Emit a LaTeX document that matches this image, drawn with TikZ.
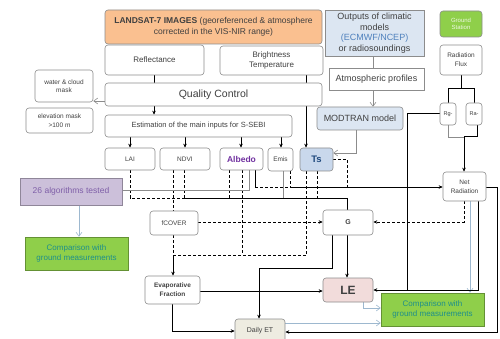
\documentclass[tikz,border=0pt]{standalone}
\usepackage{fontspec}
\setmainfont{Liberation Sans}
\usetikzlibrary{arrows.meta,backgrounds}
\definecolor{bord}{HTML}{8C8C8C}
\definecolor{txt}{HTML}{404040}
\definecolor{orangef}{HTML}{FAC090}
\definecolor{bluef}{HTML}{DCE6F2}
\definecolor{tsf}{HTML}{C9D8EC}
\definecolor{tsblue}{HTML}{1F497D}
\definecolor{greenf}{HTML}{8FCF4A}
\definecolor{greent}{HTML}{1E8F8A}
\definecolor{purplef}{HTML}{CCC0DA}
\definecolor{purplet}{HTML}{7F5FA8}
\definecolor{albedot}{HTML}{7030A0}
\definecolor{pinkf}{HTML}{F2DCDB}
\definecolor{beigef}{HTML}{EEECE1}
\definecolor{lblue}{HTML}{9DB8CF}
\definecolor{ecmwf}{HTML}{4F81BD}
\tikzset{
  bx/.style={draw=bord, line width=0.6pt, rounded corners=3pt, fill=white, align=center, inner sep=0pt, text=txt},
  sq/.style={draw=bord, line width=0.6pt, fill=white, align=center, inner sep=0pt, text=txt},
  thk/.style={line width=1pt, black},
  thn/.style={line width=0.65pt, black},
  dsh/.style={line width=0.9pt, black, dash pattern=on 3pt off 2pt},
  gry/.style={line width=0.6pt, bord},
  lbl/.style={line width=0.6pt, lblue},
  arr/.style={-{Stealth[length=4pt,width=3.5pt]}},
  oarr/.style={-{Straight Barb[length=4pt,width=6pt]}},
}
\begin{document}
\begin{tikzpicture}[x=1pt,y=-1pt]
\useasboundingbox (0,0) rectangle (500,339);
% ---------- nodes ----------
\node[bx, fill=orangef, minimum width=217pt, minimum height=34pt, font=\fontsize{8.5}{10.5}\selectfont] (land) at (213.5,27)
  {\textbf{LANDSAT-7 IMAGES} (georeferenced \& atmosphere\\corrected in the VIS-NIR range)};
\node[sq, fill=bluef, minimum width=99pt, minimum height=46pt, font=\fontsize{9}{10.5}\selectfont] (outp) at (374.5,33)
  {Outputs of climatic\\models\\\textcolor{ecmwf}{(ECMWF/NCEP)}\\or radiosoundings};
\node[bx, fill=greenf, minimum width=42pt, minimum height=26pt, font=\fontsize{6}{7.5}\selectfont, text=white!85!greenf] (gst) at (461,24) {Ground\\Station};
\node[bx, minimum width=99pt, minimum height=30pt, font=\fontsize{8}{10}\selectfont] (refl) at (154.5,60) {Reflectance};
\node[bx, minimum width=103pt, minimum height=29pt, font=\fontsize{8}{10}\selectfont] (bt) at (271.5,60.5) {Brightness\\Temperature};
\node[bx, minimum width=42pt, minimum height=30pt, font=\fontsize{6.5}{9}\selectfont] (rflux) at (461,60) {Radiation\\Flux};
\node[sq, minimum width=95pt, minimum height=22pt, font=\fontsize{9}{11}\selectfont] (atm) at (376.5,79) {Atmospheric profiles};
\node[bx, minimum width=217pt, minimum height=23pt, font=\fontsize{10.5}{12}\selectfont] (qc) at (213.5,94.5) {Quality Control};
\node[bx, minimum width=58pt, minimum height=32pt, font=\fontsize{6.5}{8.5}\selectfont] (water) at (64,86) {water \& cloud\\mask};
\node[bx, minimum width=67pt, minimum height=25pt, font=\fontsize{6.5}{8.5}\selectfont] (elev) at (59.5,120.5) {elevation mask\\>100 m};
\node[bx, minimum width=187pt, minimum height=22pt, font=\fontsize{7.5}{9}\selectfont] (est) at (198.5,126) {Estimation of the main inputs for S-SEBI};
\node[bx, fill=bluef, minimum width=86pt, minimum height=23pt, font=\fontsize{9}{11}\selectfont] (mod) at (360,118.5) {MODTRAN model};
\node[bx, minimum width=16pt, minimum height=22pt, font=\fontsize{5.5}{7}\selectfont] (rg) at (448,114) {Rg-};
\node[bx, minimum width=16pt, minimum height=22pt, font=\fontsize{5.5}{7}\selectfont] (ra) at (474,114) {Ra-};
\node[bx, minimum width=50pt, minimum height=22pt, font=\fontsize{6.5}{8}\selectfont] (lai) at (130,159) {LAI};
\node[bx, minimum width=50pt, minimum height=22pt, font=\fontsize{6.5}{8}\selectfont] (ndvi) at (185,159) {NDVI};
\node[bx, minimum width=43pt, minimum height=22pt, font=\bfseries\fontsize{8.5}{10}\selectfont, text=albedot] (alb) at (241.5,159) {Albedo};
\node[bx, minimum width=25pt, minimum height=23pt, font=\fontsize{6.5}{8}\selectfont] (emis) at (280.5,159.5) {Emis};
\node[bx, fill=tsf, minimum width=33pt, minimum height=23pt, font=\bfseries\fontsize{9.5}{11}\selectfont, text=tsblue] (ts) at (316.5,159.5) {Ts};
\node[sq, fill=purplef, draw=purplef!70!black, minimum width=102pt, minimum height=27pt, font=\fontsize{8.5}{10}\selectfont, text=purplet] (alg) at (71,191.5) {26 algorithms tested};
\node[sq, fill=greenf, draw=greenf!70!black, minimum width=103pt, minimum height=33pt, font=\fontsize{8}{10.5}\selectfont, text=greent] (cmpl) at (76.5,253.5) {Comparison with\\ground measurements};
\node[bx, minimum width=48pt, minimum height=24pt, font=\fontsize{6.5}{8}\selectfont] (fcov) at (174,223) {fCOVER};
\node[bx, minimum width=50pt, minimum height=25pt, font=\bfseries\fontsize{7}{8}\selectfont] (g) at (348,222.5) {G};
\node[bx, minimum width=43pt, minimum height=29pt, font=\fontsize{6.5}{9}\selectfont] (net) at (464.5,186.5) {Net\\Radiation};
\node[bx, minimum width=55pt, minimum height=28pt, font=\bfseries\fontsize{6.5}{9}\selectfont] (ef) at (172.5,290) {Evaporative\\Fraction};
\node[bx, fill=pinkf, minimum width=50pt, minimum height=24pt, font=\bfseries\fontsize{12}{14}\selectfont] (le) at (348,290) {LE};
\node[sq, fill=greenf, draw=greenf!70!black, minimum width=103pt, minimum height=33pt, font=\fontsize{8}{10.5}\selectfont, text=greent] (cmpr) at (432.5,309.5) {Comparison with\\ground measurements};
\node[bx, fill=beigef, minimum width=50pt, minimum height=24pt, font=\fontsize{7}{8}\selectfont] (det) at (260,331) {Daily ET};
% ---------- connectors ----------
\begin{pgfonlayer}{background}
% top part
\draw[thk] (refl.south -| 154,0) -- (qc.north -| 154,0);
\draw[thn,arr] (qc.south -| 154,0) -- (est.north -| 154,0);
\draw[gry,oarr] (qc.west |- 0,101) -- (water.east |- 0,101);
\draw[thk,arr] (bt.south -| 306,0) -- (ts.north -| 306,0);
\draw[thn,arr] (est.south -| 130,0) -- (lai.north -| 130,0);
\draw[thn,arr] (est.south -| 185,0) -- (ndvi.north -| 185,0);
\draw[thn,arr] (est.south -| 241,0) -- (alb.north -| 241,0);
\draw[thn,arr] (est.south -| 281,0) -- (emis.north -| 281,0);
\draw[gry] (outp.south -| 373,0) -- (atm.north -| 373,0);
\draw[gry,oarr] (atm.south -| 373,0) -- (mod.north -| 373,0);
\draw[gry,oarr] (mod.south -| 356,0) -- (356,153) -- (ts.east |- 0,153);
% radiation flux
\coordinate (rf1) at (461,88);
\draw[thn] (rflux.south) -- (rf1);
\draw[thn] (rg.north -| 448,0) -- (448,88) -- (474,88) -- (ra.north -| 474,0);
\draw[gry] (rg.south -| 448,0) -- (448,137) -- (464,137);
\draw[thk] (ra.south -| 477,0) -- (477,137) -- (464,137);
\draw[thk,arr] (464,137) -- (net.north -| 464,0);
\draw[thk] (rg.west) -- (407,114) -- (407,290);
% outputs of inputs
\draw[dsh] (lai.south -| 130,0) -- (130,198) -- (183,198);
\draw[dsh] (ndvi.south -| 184,0) -- (184,198);
\draw[dsh] (ndvi.south -| 173,0) -- (fcov.north -| 173,0);
\draw[dsh] (alb.south -| 229,0) -- (229,198);
\draw[dsh] (alb.south -| 242,0) -- (242,255);
\draw[gry] (alb.south -| 249,0) -- (249,190) -- (alg.east |- 0,190);
\draw[thn] (alb.south -| 255,0) -- (255,187);
\draw[dsh] (255,187) -- (290,187);
\draw[gry] (emis.south -| 283,0) -- (283,198);
\draw[dsh] (emis.south -| 290,0) -- (290,187);
\draw[dsh] (ts.south -| 306,0) -- (306,255);
\draw[dsh] (ts.south -| 317,0) -- (317,198);
\draw[dsh] (ts.east |- 0,159) -- (347,159) -- (347,187);
\draw[thk,arr] (290,187) -- (net.west |- 0,187);
\draw[thk] (183,198) -- (347,198) -- (g.north -| 347,0);
% fcover / G / EF
\draw[dsh,arr] (fcov.east |- 0,222) -- (g.west |- 0,222);
\draw[dsh] (fcov.south -| 173,0) -- (173,255);
\draw[dsh] (173,255) -- (306,255);
\draw[thn,arr] (173,255) -- (ef.north -| 173,0);
\draw[dsh,arr] (net.south -| 464,0) -- (464,222) -- (g.east |- 0,222);
\draw[lbl,oarr] (net.south -| 470,0) -- (cmpr.north -| 470,0);
\draw[thn,arr] (net.south -| 478,0) -- (478,290) -- (le.east |- 0,290);
\draw[thk,arr] (net.east |- 0,187) -- (497,187) -- (497,332) -- (det.east |- 0,332);
\draw[thk,arr] (g.south -| 347,0) -- (le.north -| 347,0);
\draw[thk,arr] (g.south -| 332,0) -- (332,268) -- (259,268) -- (det.north -| 259,0);
\draw[thn,arr] (ef.east |- 0,291) -- (le.west |- 0,291);
\draw[thk,arr] (ef.south -| 172,0) -- (172,331) -- (det.west |- 0,331);
\draw[lbl,oarr] (le.south -| 363,0) -- (363,308) -- (cmpr.west |- 0,308);
\draw[lbl,oarr] (det.east |- 0,323) -- (cmpr.west |- 0,323);
\draw[lbl,oarr] (alg.south -| 79,0) -- (cmpl.north -| 79,0);
\end{pgfonlayer}
\end{tikzpicture}
\end{document}
